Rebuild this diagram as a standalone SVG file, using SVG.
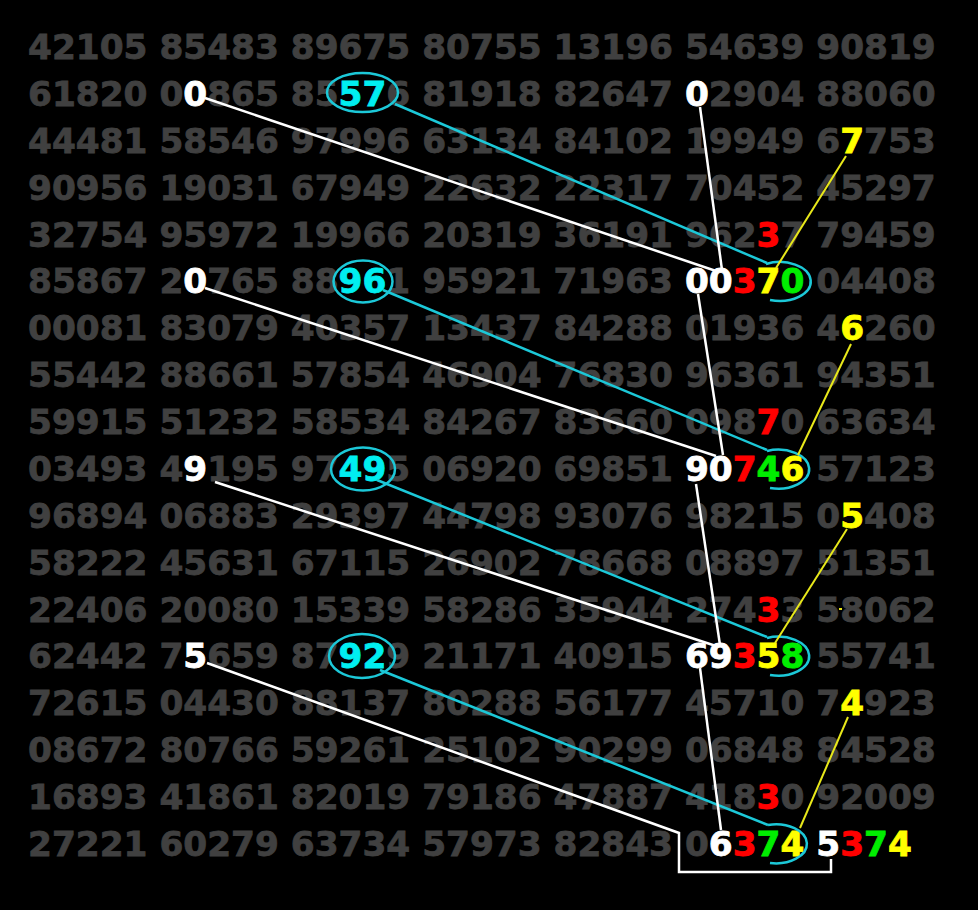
<svg xmlns="http://www.w3.org/2000/svg" width="978" height="910" viewBox="0 0 978 910">
<style>
.g{font-family:"DejaVu Sans",Verdana,sans-serif;font-weight:bold;font-size:34.35px;fill:#404040;stroke:#404040;stroke-width:0.8}
.w{fill:#ffffff;stroke:#ffffff}.c{fill:#00eef0;stroke:#00eef0}.r{fill:#ff0000;stroke:#ff0000}.y{fill:#ffff00;stroke:#ffff00}.n{fill:#00ee00;stroke:#00ee00}
.cl{fill:none;stroke:#1cc8d8;stroke-width:2.5}
.wl{fill:none;stroke:#ffffff;stroke-width:2.5}
.yl{fill:none;stroke:#e8e81a;stroke-width:2}
</style>
<rect width="978" height="910" fill="#000"/>
<g id="grid" class="g">
<text x="28" y="59">42105 85483 89675 80755 13196 54639 90819</text>
<text x="28" y="105.9">61820 0<tspan class="w">0</tspan>865 85<tspan class="c">57</tspan>6 81918 82647 <tspan class="w">0</tspan>2904 88060</text>
<text x="28" y="152.8">44481 58546 97996 63134 84102 19949 6<tspan class="y">7</tspan>753</text>
<text x="28" y="199.6">90956 19031 67949 22632 22317 70452 45297</text>
<text x="28" y="246.5">32754 95972 19966 20319 36191 962<tspan class="r">3</tspan>7 79459</text>
<text x="28" y="293.4">85867 2<tspan class="w">0</tspan>765 88<tspan class="c">96</tspan>1 95921 71963 <tspan class="w">00</tspan><tspan class="r">3</tspan><tspan class="y">7</tspan><tspan class="n">0</tspan> 04408</text>
<text x="28" y="340.3">00081 83079 40357 13437 84288 01936 4<tspan class="y">6</tspan>260</text>
<text x="28" y="387.2">55442 88661 57854 46904 76830 96361 94351</text>
<text x="28" y="434">59915 51232 58534 84267 83660 098<tspan class="r">7</tspan>0 63634</text>
<text x="28" y="480.9">03493 4<tspan class="w">9</tspan>195 97<tspan class="c">49</tspan>5 06920 69851 <tspan class="w">90</tspan><tspan class="r">7</tspan><tspan class="n">4</tspan><tspan class="y">6</tspan> 57123</text>
<text x="28" y="527.8">96894 06883 29397 44798 93076 98215 0<tspan class="y">5</tspan>408</text>
<text x="28" y="574.7">58222 45631 67115 26902 78668 08897 51351</text>
<text x="28" y="621.6">22406 20080 15339 58286 35944 274<tspan class="r">3</tspan>3 58062</text>
<text x="28" y="668.4">62442 7<tspan class="w">5</tspan>659 87<tspan class="c">92</tspan>9 21171 40915 <tspan class="w">69</tspan><tspan class="r">3</tspan><tspan class="y">5</tspan><tspan class="n">8</tspan> 55741</text>
<text x="28" y="715.3">72615 04430 88137 80288 56177 45710 7<tspan class="y">4</tspan>923</text>
<text x="28" y="762.2">08672 80766 59261 25102 90299 06848 84528</text>
<text x="28" y="809.1">16893 41861 82019 79186 47887 418<tspan class="r">3</tspan>0 92009</text>
<text x="28" y="856">27221 60279 63734 57973 82843 0<tspan class="w">6</tspan><tspan class="r">3</tspan><tspan class="n">7</tspan><tspan class="y">4</tspan> <tspan class="w">5</tspan><tspan class="r">3</tspan><tspan class="n">7</tspan><tspan class="y">4</tspan></text>
</g>
<g id="pair57"><ellipse class="cl" cx="362.5" cy="92.5" rx="35.5" ry="19.5"/></g>
<g id="pair96"><ellipse class="cl" cx="363" cy="281.5" rx="29.5" ry="21"/></g>
<g id="pair49"><ellipse class="cl" cx="363" cy="469" rx="32" ry="21.5"/></g>
<g id="pair92"><ellipse class="cl" cx="362" cy="656" rx="33" ry="22"/></g>
<g id="res370"><path class="cl" d="M766 264 A31 19.5 0 1 1 770 300"/></g>
<g id="res746"><path class="cl" d="M767 451 A31 19.5 0 1 1 770 488"/></g>
<g id="res358"><path class="cl" d="M767 638 A31 19.5 0 1 1 770 675"/></g>
<g id="res374"><path class="cl" d="M768 825 A31 19.5 0 1 1 770 863"/></g>
<g id="connectors">
<line class="cl" x1="395" y1="104" x2="767" y2="263"/>
<line class="cl" x1="383" y1="290" x2="767" y2="450"/>
<line class="cl" x1="377" y1="480" x2="767" y2="637"/>
<line class="cl" x1="380" y1="670" x2="768" y2="825"/>
<line class="wl" x1="205" y1="98" x2="716" y2="271"/>
<line class="wl" x1="700" y1="107" x2="722" y2="270"/>
<line class="wl" x1="205" y1="288" x2="716" y2="456"/>
<line class="wl" x1="698" y1="294" x2="723" y2="455"/>
<line class="wl" x1="215" y1="482" x2="716" y2="646"/>
<line class="wl" x1="696" y1="484" x2="720" y2="645"/>
<polyline class="wl" points="207,663 679,833 679,872 831,872 831,859"/>
<line class="wl" x1="700" y1="668" x2="721" y2="830"/>
<line class="yl" x1="846" y1="156" x2="776" y2="268"/>
<line class="yl" x1="851" y1="344" x2="798" y2="455"/>
<line class="yl" x1="847" y1="529" x2="775" y2="643"/>
<line class="yl" x1="848" y1="717" x2="800" y2="828"/>
<rect x="839" y="608" width="3" height="2" fill="#e8e81a"/>
</g>
</svg>
